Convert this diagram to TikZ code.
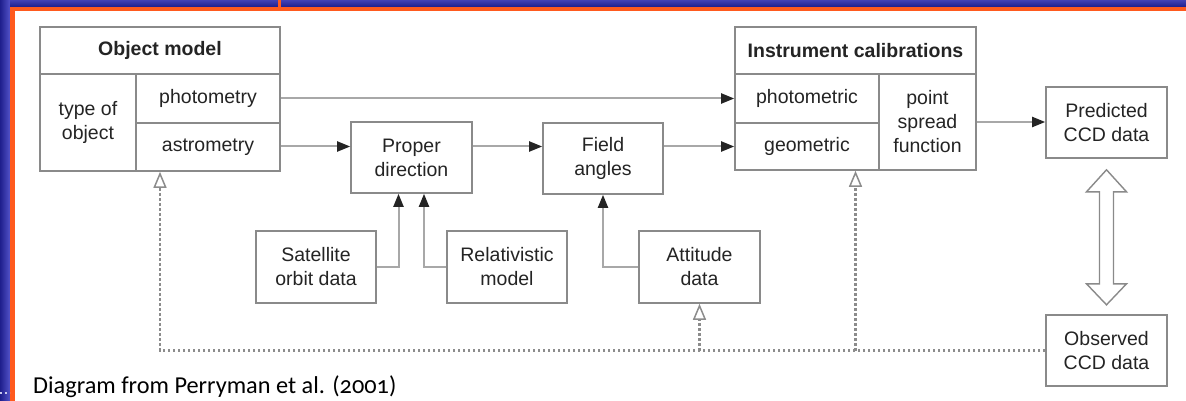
\documentclass[tikz,border=0pt]{standalone}
\usepackage{fontspec}
\setmainfont{Liberation Sans}
\newfontfamily\creditfont[Numbers=OldStyle]{Carlito}
\usetikzlibrary{calc,arrows.meta}

\definecolor{slideblue}{HTML}{1E1E8C}
\definecolor{slidelight}{HTML}{5252C8}
\definecolor{slideorange}{HTML}{FF5A1E}
\definecolor{boxline}{HTML}{8A8A8A}
\definecolor{wireline}{HTML}{A8A8A8}
\definecolor{inktext}{HTML}{242424}
\definecolor{dotline}{HTML}{8C8C8C}

\tikzset{
	cell/.style={draw=boxline, line width=1.6pt, fill=white, text=inktext, align=center, inner sep=0pt,
		font=\fontsize{19.5}{24}\selectfont},
	headcell/.style={cell, font=\fontsize{19.5}{24}\selectfont\bfseries},
	wire/.style={draw=wireline, line width=2pt, -{Triangle[length=13pt,width=10pt,color=inktext]}},
	feedback/.style={draw=dotline, line width=2.2pt, dash pattern=on 2.5pt off 2.5pt,
		-{Triangle[open,length=16pt,width=13pt,fill=white,line width=1.5pt]}},
}

\begin{document}
\begin{tikzpicture}[x=1pt,y=-1pt]
		%%%%% START %%%%%
		\useasboundingbox (0,0) rectangle (1186,401);
		\fill[white] (0,0) rectangle (1186,401);
		
		% slide frame
		\shade[left color=slideblue, right color=slidelight] (0,0) rectangle (10,401);
		\shade[top color=slidelight!70!slideblue, bottom color=slideblue] (10,0) rectangle (1186,7);
		\fill[slideorange] (10,7) rectangle (1186,11);
		\fill[slideorange] (10,7) rectangle (15,401);
		\fill[slideorange] (278,0) rectangle (281,7);
		\draw[white!70!slidelight, line width=1.2pt, dash pattern=on 2pt off 3pt] (0,393) -- (10,393);
		
		% object model table
		\node[headcell, minimum width=240pt, minimum height=47pt] (omtitle) at (160,50.5) {Object model};
		\node[cell, minimum width=96pt, minimum height=97pt] (omtype) at (88,122.5) {type of\\object};
		\node[cell, minimum width=144pt, minimum height=49pt] (omphot) at (208,98.5) {photometry};
		\node[cell, minimum width=144pt, minimum height=48pt] (omastr) at (208,147) {astrometry};
		
		% instrument calibrations table
		\node[headcell, minimum width=241pt, minimum height=47pt] (ictitle) at (855.5,50.5) {Instrument calibrations};
		\node[cell, minimum width=144pt, minimum height=49pt] (icphot) at (807,98.5) {photometric};
		\node[cell, minimum width=144pt, minimum height=47pt] (icgeom) at (807,146.5) {geometric};
		\node[cell, minimum width=97pt, minimum height=96pt] (icpsf) at (927.5,122) {point\\spread\\function};
		
		% middle chain
		\node[cell, minimum width=121pt, minimum height=71pt] (proper) at (411.5,157.5) {Proper\\direction};
		\node[cell, minimum width=120pt, minimum height=71pt] (field) at (603,158.5) {Field\\angles};
		\node[cell, minimum width=121pt, minimum height=71pt] (predicted) at (1106.5,122.5) {Predicted\\CCD data};
		
		% inputs below
		\node[cell, minimum width=120pt, minimum height=72pt] (satorbit) at (316,267) {Satellite\\orbit data};
		\node[cell, minimum width=120pt, minimum height=72pt] (relmodel) at (507,267) {Relativistic\\model};
		\node[cell, minimum width=121pt, minimum height=72pt] (attitude) at (699.5,267) {Attitude\\data};
		\node[cell, minimum width=121pt, minimum height=71pt] (observed) at (1106.5,350.5) {Observed\\CCD data};
		
		% forward connectors
		\draw[wire] (omphot.east) -- (omphot.east -| icphot.west);
		\draw[wire] (omastr.east |- icgeom.west) -- (icgeom.west -| proper.west);
		\draw[wire] (proper.east |- icgeom.west) -- (icgeom.west -| field.west);
		\draw[wire] (field.east |- icgeom.west) -- (icgeom.west);
		\draw[wire] (icpsf.east) -- (icpsf.east -| predicted.west);
		
		\draw[wire] (satorbit.east) -| ([xshift=-13pt]proper.south);
		\draw[wire] (relmodel.west) -| ([xshift=12.5pt]proper.south);
		\draw[wire] (attitude.west) -| (field.south);
		
		% comparison arrow
		\draw[boxline, line width=1.4pt, fill=white] ($(predicted.south)+(0,11)$) -- ++(-20,22) -- ++(13,0) -- ++(0,92)
			-- ++(-13,0) -- ++(20,21) -- ++(20,-21) -- ++(-13,0) -- ++(0,-92) -- ++(13,0) -- cycle;
		
		% feedback (dotted)
		\coordinate (fbleft) at (160,350.5);
		\draw[feedback] (observed.west) -- (fbleft) -- (fbleft |- omastr.south);
		\draw[feedback] (attitude.south |- fbleft) -- (attitude.south);
		\draw[feedback] (ictitle.south |- fbleft) -- (ictitle.south |- icgeom.south);
		
		\node[anchor=base west, text=black, inner sep=0pt, font=\creditfont\fontsize{24.3}{29}\selectfont] (credit) at (33,393)
			{Diagram from Perryman et al. (2001)};
		
		%%%%% END %%%%%
\end{tikzpicture}
\end{document}
